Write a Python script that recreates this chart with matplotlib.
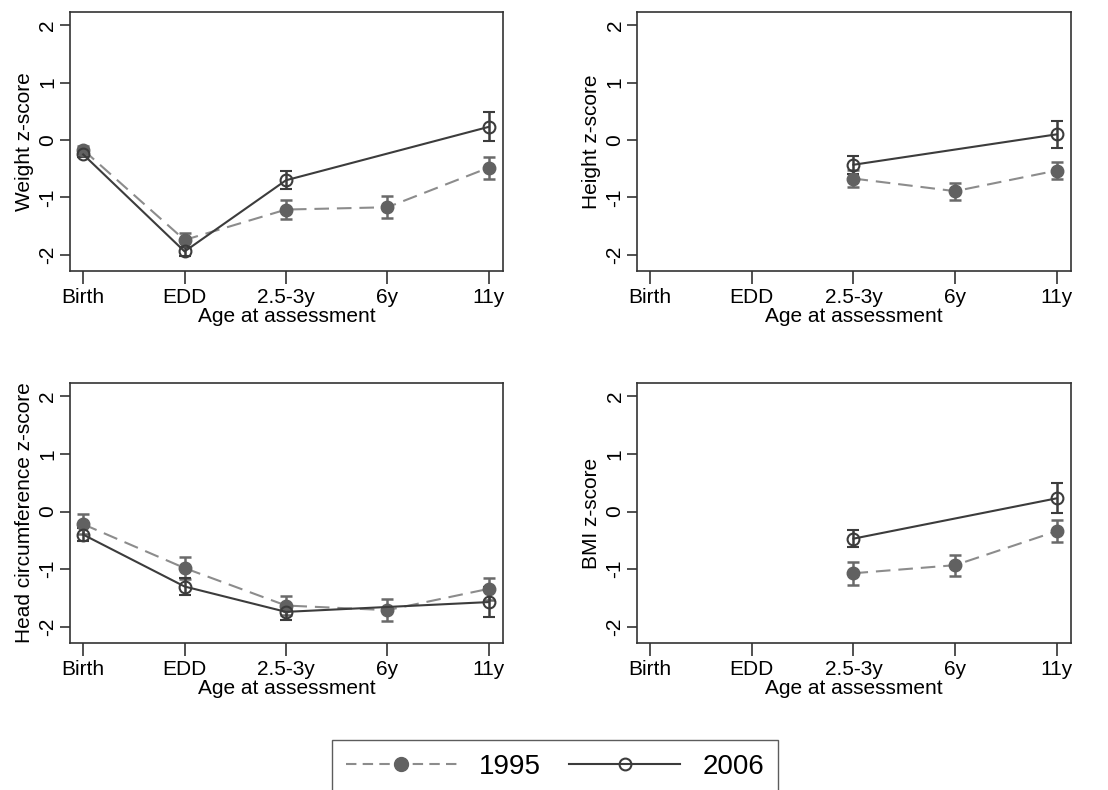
import numpy as np
import matplotlib.pyplot as plt
from matplotlib.lines import Line2D

plt.rcParams['font.family'] = ['Liberation Sans', 'DejaVu Sans']

ages = ['Birth', 'EDD', '2.5-3y', '6y', '11y']

# NaN = not measured at that age
weight_95 = [-0.17, -1.74, -1.21, -1.17, -0.48]
weight_95_err = [0.06, 0.13, 0.17, 0.19, 0.19]
weight_06 = [-0.25, -1.94, -0.70, np.nan, 0.23]
weight_06_err = [0.05, 0.08, 0.16, np.nan, 0.25]

height_95 = [np.nan, np.nan, -0.67, -0.89, -0.53]
height_95_err = [np.nan, np.nan, 0.15, 0.15, 0.15]
height_06 = [np.nan, np.nan, -0.43, np.nan, 0.10]
height_06_err = [np.nan, np.nan, 0.16, np.nan, 0.24]

head_95 = [-0.22, -0.98, -1.63, -1.71, -1.34]
head_95_err = [0.17, 0.19, 0.17, 0.19, 0.19]
head_06 = [-0.40, -1.30, -1.74, np.nan, -1.57]
head_06_err = [0.11, 0.14, 0.14, np.nan, 0.26]

bmi_95 = [np.nan, np.nan, -1.07, -0.93, -0.34]
bmi_95_err = [np.nan, np.nan, 0.20, 0.18, 0.19]
bmi_06 = [np.nan, np.nan, -0.47, np.nan, 0.23]
bmi_06_err = [np.nan, np.nan, 0.15, np.nan, 0.26]

panels = [
    ('Weight z-score', weight_95, weight_95_err, weight_06, weight_06_err),
    ('Height z-score', height_95, height_95_err, height_06, height_06_err),
    ('Head circumference z-score', head_95, head_95_err, head_06, head_06_err),
    ('BMI z-score', bmi_95, bmi_95_err, bmi_06, bmi_06_err),
]

W, H = 1108, 790
fig = plt.figure(figsize=(W / 100, H / 100), dpi=100)

# axes boxes in pixels: left, top, right, bottom
boxes = [(70, 12, 503, 271), (637, 12, 1071, 271),
         (70, 383, 503, 643), (637, 383, 1071, 643)]

c95_line = '#8c8c8c'
c95_mark = '#616161'
c06 = '#3c3c3c'
fs = 15

def plot_series(ax, vals, errs, **kw):
    x = np.arange(len(ages))
    v = np.array(vals, dtype=float)
    e = np.array(errs, dtype=float)
    ok = ~np.isnan(v)
    return ax.errorbar(x[ok], v[ok], yerr=e[ok], **kw)

for (ylab, v95, e95, v06, e06), (l, t, r, b) in zip(panels, boxes):
    ax = fig.add_axes([l / W, 1 - b / H, (r - l) / W, (b - t) / H])
    plot_series(ax, v95, e95, color=c95_line, ls=(0, (7, 3.8)), lw=1.5,
                marker='o', ms=9, mfc=c95_mark, mec=c95_mark,
                ecolor='#6a6a6a', elinewidth=1.8, capsize=4, capthick=1.8)
    plot_series(ax, v06, e06, color=c06, ls='-', lw=1.5,
                marker='o', ms=8.5, mfc='none', mec=c06, mew=1.5,
                ecolor=c06, elinewidth=1.8, capsize=4, capthick=1.8)
    ax.set_xlim(-0.13, 4.14)
    ax.set_ylim(-2.28, 2.23)
    ax.set_xticks(range(len(ages)))
    ax.set_xticklabels(ages, fontsize=fs)
    ax.set_yticks([-2, -1, 0, 1, 2])
    ax.set_yticklabels(['-2', '-1', '0', '1', '2'], fontsize=fs,
                       rotation=90, va='center')
    ax.tick_params(direction='out', width=1.2, color='#333333')
    ax.tick_params(axis='x', length=9, pad=3)
    ax.tick_params(axis='y', length=7, pad=2)
    ax.set_xlabel('Age at assessment', fontsize=fs, labelpad=0)
    ax.set_ylabel(ylab, fontsize=fs, labelpad=3)
    for s in ax.spines.values():
        s.set_linewidth(1.2)
        s.set_color('#333333')

h95 = Line2D([], [], color=c95_line, ls=(0, (5, 3)), lw=1.5, marker='o',
             ms=10, mfc=c95_mark, mec=c95_mark)
h06 = Line2D([], [], color=c06, ls='-', lw=1.5, marker='o', ms=8.5,
             mfc='none', mec=c06, mew=1.5)
fig.legend([h95, h06], ['1995', '2006'], loc='upper center',
           bbox_to_anchor=(555 / W, 1 - 740 / H), ncol=2, fontsize=20,
           frameon=True, fancybox=False, edgecolor='#333333',
           handlelength=4, handletextpad=0.8, columnspacing=1.0,
           borderpad=0.5, borderaxespad=0)

fig.savefig('out.png', dpi=100, facecolor='white')
